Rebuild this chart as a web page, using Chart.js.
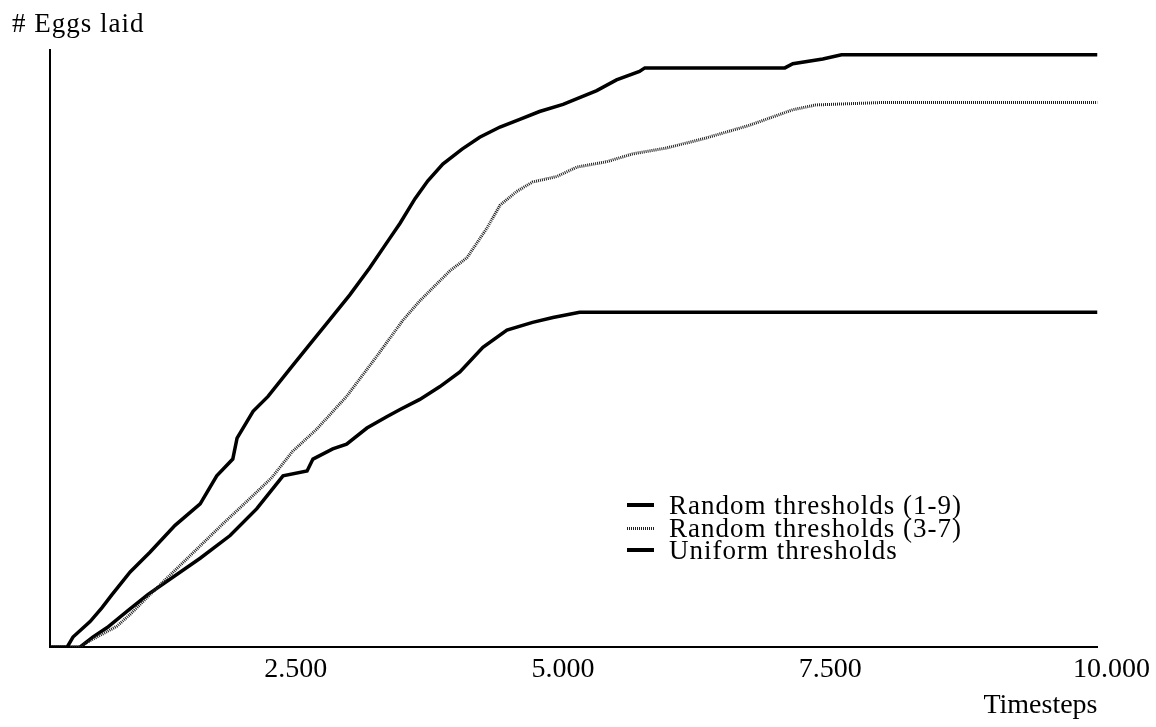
<!DOCTYPE html>
<html lang="en">
<head>
  <meta charset="UTF-8" />
  <title># Eggs laid</title>
  <script src="https://cdn.jsdelivr.net/npm/chart.js"></script>
  <style>
    body {
      margin: 0;
      background: #fff;
      font-family: "Liberation Serif", "Times New Roman", serif;
      color: #000;
    }
    #wrap {
      position: relative;
      width: 1156px;
      height: 727px;
      overflow: hidden;
    }
    #yTitle {
      position: absolute;
      left: 12px;
      top: 10px;
      font-size: 27px;
      line-height: 27px;
      letter-spacing: 1px;
      white-space: nowrap;
    }
    #legend {
      position: absolute;
      left: 627px;
      top: 494px;
      font-size: 27px;
      letter-spacing: 1px;
    }
    .row {
      position: relative;
      height: 22.5px;
      line-height: 22.5px;
      white-space: nowrap;
    }
    .sample {
      position: absolute;
      left: 0;
      top: 9px;
      width: 27px;
      height: 3.5px;
      background: #000;
    }
    .sample.dotted {
      height: 3px;
      top: 10px;
      background: repeating-linear-gradient(90deg, #222 0 1px, #fff 1px 2px);
    }
    .row span.txt {
      position: absolute;
      left: 42px;
      top: 0;
    }
  </style>
</head>
<body>
<div id="wrap">
  <canvas id="eggsChart" width="1156" height="727"></canvas>
  <div id="yTitle"># Eggs laid</div>
  <div id="legend"></div>
</div>

<script>
  // valeurs (axe y sans graduation, 0 à 100)
  const seriesNames = ['Random thresholds (1-9)', 'Random thresholds (3-7)', 'Uniform thresholds'];

  const steps19 = [200, 360, 415, 575, 685, 780, 950, 1135, 1370, 1605, 1760, 1910, 1950, 2100, 2240, 2445, 2630, 2820, 3005, 3190,
                   3380, 3475, 3615, 3735, 3875, 4055, 4220, 4410, 4595, 4780, 5000, 5315, 5500, 5715, 5765, 7075, 7150, 7430, 7605, 10000];
  const eggs19 = [0, 0, 1.7, 4.3, 6.6, 8.8, 12.6, 15.9, 20.4, 24.0, 28.7, 31.5, 35.0, 39.5, 42.0, 46.6, 50.7, 54.9, 59.0, 63.5,
                  68.5, 71.0, 75.1, 78.1, 80.9, 83.4, 85.4, 87.1, 88.4, 89.7, 90.9, 93.2, 95.0, 96.4, 97.0, 97.0, 97.7, 98.5, 99.2, 99.2];

  const steps37 = [200, 480, 545, 825, 950, 1135, 1820, 2100, 2275, 2470, 2695, 2975, 3240, 3500, 3660, 3940, 4100, 4285, 4410, 4565,
                   4715, 4940, 5130, 5410, 5650, 5970, 6325, 6745, 7150, 7365, 7970, 10000];
  const eggs37 = [0, 0, 0.8, 3.5, 5.5, 8.8, 20.7, 25.4, 28.4, 32.8, 36.5, 42.0, 48.3, 54.7, 58.0, 63.0, 65.2, 70.1, 74.0, 76.3,
                  77.9, 78.8, 80.4, 81.3, 82.6, 83.6, 85.2, 87.4, 90.0, 90.8, 91.2, 91.2];

  const stepsUni = [200, 480, 600, 735, 920, 1115, 1605, 1885, 2135, 2380, 2605, 2660, 2845, 2975, 3165, 3350, 3475, 3660, 3845, 4035,
                    4250, 4475, 4715, 4905, 5155, 10000];
  const eggsUni = [0, 0, 1.7, 3.3, 6.0, 8.8, 14.9, 18.7, 23.2, 28.7, 29.5, 31.5, 33.2, 34.0, 36.7, 38.6, 39.8, 41.5, 43.6, 46.1,
                   50.2, 53.1, 54.4, 55.2, 56.1, 56.1];

  const tickValues = [2500, 5000, 7500, 10000];
  const tickLabels = ['2.500', '5.000', '7.500', '10.000'];

  const colors = ['#000', '#222', '#000'];
  const widths = [3.5, 3, 3.5];
  const dashes = [[], [1, 1], []];

  const toPoints = (xs, ys) => xs.map((x, i) => ({ x: x, y: ys[i] }));
  const allX = [steps19, steps37, stepsUni];
  const allY = [eggs19, eggs37, eggsUni];

  const serif = 'Liberation Serif';

  new Chart(document.getElementById('eggsChart'), {
    type: 'line',
    data: {
      datasets: seriesNames.map((name, i) => ({
        label: name,
        data: toPoints(allX[i], allY[i]),
        borderColor: colors[i],
        backgroundColor: colors[i],
        borderWidth: widths[i],
        borderDash: dashes[i],
        pointRadius: 0,
        tension: 0,
        fill: false
      }))
    },
    options: {
      responsive: false,
      animation: false,
      layout: { padding: { left: 50, right: 58, top: 50, bottom: 9 } },
      plugins: {
        legend: { display: false },
        tooltip: { enabled: false }
      },
      scales: {
        x: {
          type: 'linear',
          min: 200,
          max: 10000,
          afterBuildTicks: axis => { axis.ticks = tickValues.map(v => ({ value: v })); },
          ticks: {
            // le dernier libellé déborde à droite de l'axe, comme sur l'original
            callback: (v, i) => (i === tickLabels.length - 1 ? '\u2007\u2007' : '') + tickLabels[i],
            color: '#000',
            font: { family: serif, size: 28 },
            padding: 6,
            maxRotation: 0,
            autoSkip: false
          },
          grid: { display: false, drawTicks: false },
          border: { display: true, color: '#000', width: 2 },
          title: {
            display: true,
            text: 'Timesteps',
            align: 'end',
            color: '#000',
            font: { family: serif, size: 28, lineHeight: 0.9 },
            padding: { top: 0, bottom: 0 }
          }
        },
        y: {
          min: 0,
          max: 100,
          ticks: { display: false },
          grid: { display: false, drawTicks: false },
          border: { display: true, color: '#000', width: 2 }
        }
      }
    }
  });

  // légende HTML dans la zone du graphique
  const legend = document.getElementById('legend');
  seriesNames.forEach((name, i) => {
    const row = document.createElement('div');
    row.className = 'row';
    row.innerHTML = `<span class="sample${i === 1 ? ' dotted' : ''}"></span><span class="txt">${name}</span>`;
    legend.appendChild(row);
  });
</script>
</body>
</html>
